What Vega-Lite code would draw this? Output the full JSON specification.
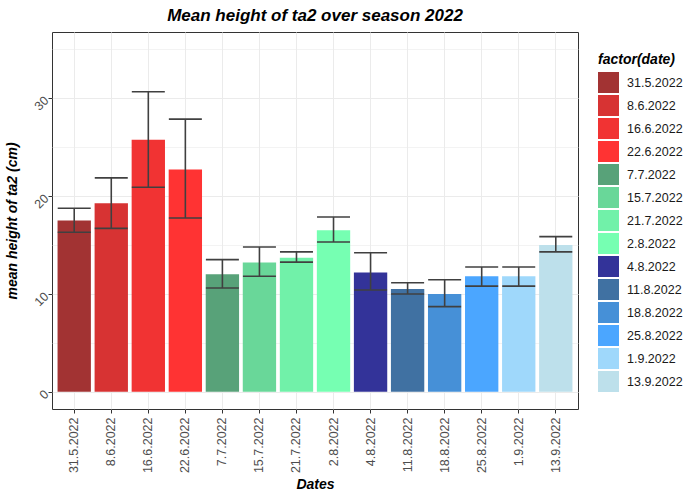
{
  "$schema": "https://vega.github.io/schema/vega-lite/v6.json",
  "width": 526,
  "height": 377,
  "autosize": {"type": "none"},
  "padding": {"left": 52, "top": 32, "right": 122, "bottom": 91},
  "title": {
    "text": "Mean height of ta2 over season 2022",
    "fontSize": 17,
    "fontStyle": "italic",
    "fontWeight": "bold",
    "font": "Liberation Sans",
    "color": "#000000",
    "anchor": "middle",
    "offset": 7
  },
  "data": {
    "values": [
      {"date": "31.5.2022", "mean": 17.5, "lo": 16.3, "hi": 18.75},
      {"date": "8.6.2022", "mean": 19.25, "lo": 16.7, "hi": 21.85},
      {"date": "16.6.2022", "mean": 25.75, "lo": 20.9, "hi": 30.65},
      {"date": "22.6.2022", "mean": 22.7, "lo": 17.75, "hi": 27.85},
      {"date": "7.7.2022", "mean": 12.0, "lo": 10.6, "hi": 13.5},
      {"date": "15.7.2022", "mean": 13.2, "lo": 11.8, "hi": 14.8},
      {"date": "21.7.2022", "mean": 13.7, "lo": 13.25, "hi": 14.3},
      {"date": "2.8.2022", "mean": 16.5, "lo": 15.3, "hi": 17.85},
      {"date": "4.8.2022", "mean": 12.2, "lo": 10.4, "hi": 14.2},
      {"date": "11.8.2022", "mean": 10.5, "lo": 10.0, "hi": 11.15},
      {"date": "18.8.2022", "mean": 10.0, "lo": 8.7, "hi": 11.45},
      {"date": "25.8.2022", "mean": 11.8, "lo": 10.8, "hi": 12.75},
      {"date": "1.9.2022", "mean": 11.8, "lo": 10.8, "hi": 12.75},
      {"date": "13.9.2022", "mean": 15.0, "lo": 14.3, "hi": 15.85}
    ]
  },
  "encoding": {
    "x": {
      "field": "date",
      "type": "nominal",
      "sort": null,
      "title": "Dates",
      "scale": {"paddingInner": 0.1, "paddingOuter": 0.15},
      "axis": {
        "labelAngle": -90,
        "labelAlign": "right",
        "labelBaseline": "middle",
        "bandPosition": 0.5,
        "tickSize": 4,
        "labelPadding": 4,
        "titlePadding": 5
      }
    }
  },
  "layer": [
    {
      "mark": {"type": "bar", "opacity": 1},
      "encoding": {
        "y": {
          "field": "mean",
          "type": "quantitative",
          "title": "mean height of ta2 (cm)",
          "scale": {"domain": [-1.75, 36.75], "nice": false, "zero": false},
          "axis": {
            "values": [0, 5, 10, 15, 20, 25, 30, 35],
            "labelExpr": "datum.value % 10 === 0 ? datum.label : ''",
            "labelAngle": -45,
            "labelAlign": "right",
            "labelBaseline": "middle",
            "tickSize": 4,
            "labelPadding": 2,
            "titlePadding": 12,
            "tickOpacity": {"condition": {"test": "datum.value % 10 === 0", "value": 1}, "value": 0},
            "gridWidth": {"condition": {"test": "datum.value % 10 === 0", "value": 1}, "value": 0.6}
          }
        },
        "y2": {"datum": 0},
        "fill": {
          "field": "date",
          "type": "nominal",
          "title": "factor(date)",
          "scale": {
            "domain": ["31.5.2022", "8.6.2022", "16.6.2022", "22.6.2022", "7.7.2022", "15.7.2022", "21.7.2022", "2.8.2022", "4.8.2022", "11.8.2022", "18.8.2022", "25.8.2022", "1.9.2022", "13.9.2022"],
            "range": ["#A23333", "#D73333", "#F13333", "#FF3333", "#58A279", "#69D799", "#71F1A9", "#76FFB2", "#333399", "#4071A2", "#4690D7", "#4BA6FF", "#9FD8FB", "#BDE0EB"]
          },
          "legend": {
            "orient": "none",
            "legendX": 546,
            "legendY": 21,
            "padding": 0,
            "symbolType": "square",
            "symbolSize": 441,
            "symbolStrokeWidth": 0,
            "symbolOpacity": 1,
            "rowPadding": 2,
            "labelOffset": 8,
            "labelFontSize": 12.5,
            "labelFont": "Liberation Sans",
            "labelColor": "#1A1A1A",
            "titleFontSize": 14,
            "titleFont": "Liberation Sans",
            "titleFontStyle": "italic",
            "titleFontWeight": "bold",
            "titleColor": "#000000",
            "titlePadding": 5
          }
        }
      }
    },
    {
      "mark": {"type": "rule", "color": "#404040", "strokeWidth": 1.6},
      "encoding": {
        "y": {"field": "lo", "type": "quantitative"},
        "y2": {"field": "hi"}
      }
    },
    {
      "mark": {"type": "tick", "color": "#404040", "thickness": 1.6, "size": 33, "opacity": 1},
      "encoding": {
        "y": {"field": "lo", "type": "quantitative"}
      }
    },
    {
      "mark": {"type": "tick", "color": "#404040", "thickness": 1.6, "size": 33, "opacity": 1},
      "encoding": {
        "y": {"field": "hi", "type": "quantitative"}
      }
    }
  ],
  "config": {
    "view": {"stroke": "#333333", "strokeWidth": 1},
    "axis": {
      "domain": false,
      "grid": true,
      "gridColor": "#EBEBEB",
      "tickColor": "#333333",
      "labelColor": "#4D4D4D",
      "labelFont": "Liberation Sans",
      "labelFontSize": 12.5,
      "titleFont": "Liberation Sans",
      "titleFontSize": 14,
      "titleFontStyle": "italic",
      "titleFontWeight": "bold",
      "titleColor": "#000000"
    }
  }
}
